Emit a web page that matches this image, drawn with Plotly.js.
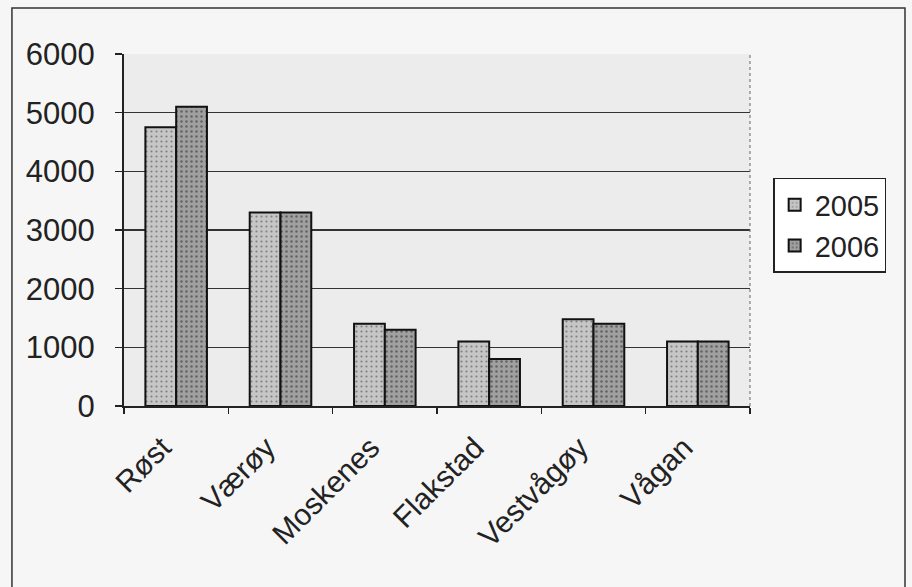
<!DOCTYPE html>
<html>
<head>
<meta charset="utf-8">
<script src="https://cdn.plot.ly/plotly-3.0.1.min.js"></script>
<style>html,body{margin:0;padding:0;background:#fff;}#chart{width:912px;height:587px;}</style>
</head>
<body>
<div id="chart"></div>
<script>
const categories = ['Røst', 'Værøy', 'Moskenes', 'Flakstad', 'Vestvågøy', 'Vågan'];
const values2005 = [4750, 3300, 1400, 1100, 1480, 1100];
const values2006 = [5100, 3300, 1300, 800, 1400, 1100];
const seriesNames = ['2005', '2006'];
const yTicks = [0, 1000, 2000, 3000, 4000, 5000, 6000];

const font = 'Liberation Sans, Arial, sans-serif';

const traces = [
  {
    type: 'bar', name: seriesNames[0], x: categories, y: values2005,
    marker: {color: '#c4c4c4', line: {color: '#111', width: 2},
      pattern: {shape: '.', fgcolor: '#808080', bgcolor: '#c6c6c6', size: 5, solidity: 0.15}}
  },
  {
    type: 'bar', name: seriesNames[1], x: categories, y: values2006,
    marker: {color: '#9c9c9c', line: {color: '#111', width: 2},
      pattern: {shape: '.', fgcolor: '#646464', bgcolor: '#a0a0a0', size: 5, solidity: 0.2}}
  }
];

const layout = {
  width: 912, height: 587,
  margin: {l: 124, r: 162, t: 54, b: 181},
  paper_bgcolor: '#f6f6f6',
  plot_bgcolor: '#ececec',
  barmode: 'group', bargap: 0.41, bargroupgap: 0,
  showlegend: true,
  legend: {
    x: 1.037, y: 0.648, xanchor: 'left', yanchor: 'top',
    bgcolor: '#ffffff', bordercolor: '#222', borderwidth: 1.5,
    font: {family: font, size: 29, color: '#222'},
    tracegroupgap: 6, itemwidth: 30
  },
  xaxis: {
    type: 'category', tickangle: -45, tickson: 'boundaries',
    ticks: 'outside', ticklen: 6, tickwidth: 1.5, tickcolor: '#222',
    showline: true, linecolor: '#222', linewidth: 2,
    showgrid: false,
    ticklabelshift: -14, ticklabelstandoff: 10,
    tickfont: {family: font, size: 30, color: '#222'},
    mirror: false
  },
  yaxis: {
    range: [0, 6000], tickvals: yTicks, ticktext: yTicks.map(String),
    ticks: 'outside', ticklen: 7, tickwidth: 1.5, tickcolor: '#222',
    showline: true, linecolor: '#222', linewidth: 2,
    showgrid: true, gridcolor: '#333', gridwidth: 1.2,
    zeroline: false, ticklabelstandoff: 14,
    tickfont: {family: font, size: 31, color: '#222'}
  },
  shapes: [
    {type: 'rect', xref: 'paper', yref: 'paper', x0: -0.179, x1: 1.2476, y0: -0.6, y1: 1.1307,
     line: {color: '#333', width: 1.5}, fillcolor: 'rgba(0,0,0,0)', layer: 'above'},
    {type: 'line', xref: 'paper', yref: 'paper', x0: 1, x1: 1, y0: 0, y1: 1,
     line: {color: '#666', width: 1, dash: 'dot'}}
  ]
};

Plotly.newPlot('chart', traces, layout, {displayModeBar: false, staticPlot: true});
</script>
</body>
</html>
